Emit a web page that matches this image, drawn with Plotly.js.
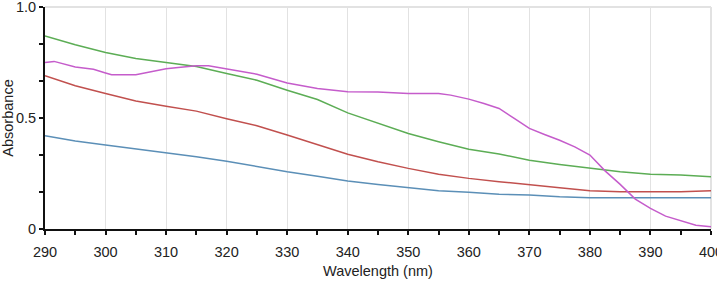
<!DOCTYPE html>
<html>
<head>
<meta charset="utf-8">
<script src="https://cdn.plot.ly/plotly-3.0.1.min.js"></script>
<style>html,body{margin:0;padding:0;background:#fff;}#chart{width:717px;height:282px;}</style>
</head>
<body>
<div id="chart"></div>
<script>
// Wavelengths (nm) shared by the green, red and blue series
const wavelengths = [290,295,300,305,310,315,320,325,330,335,340,345,350,355,360,365,370,375,380,385,390,395,400];
const greenValues = [0.87,0.83,0.795,0.768,0.75,0.732,0.70,0.67,0.625,0.583,0.523,0.478,0.43,0.393,0.359,0.338,0.31,0.291,0.273,0.258,0.247,0.243,0.235];
const redValues   = [0.69,0.645,0.61,0.577,0.553,0.531,0.497,0.465,0.423,0.381,0.337,0.303,0.273,0.247,0.228,0.213,0.198,0.186,0.172,0.168,0.168,0.168,0.172];
const blueValues  = [0.42,0.396,0.378,0.36,0.345,0.325,0.305,0.28,0.258,0.238,0.216,0.201,0.186,0.172,0.165,0.157,0.153,0.145,0.141,0.141,0.141,0.141,0.141];
// Magenta series read at finer wavelength steps
const magentaWavelengths = [290,291.5,295,298,300,301,305,307.5,310,312,315,317,320,322,325,330,335,340,345,350,355,357,360,362.5,365,367.5,370,372.5,375,377.5,380,382.5,385,387.5,390,392.5,395,397.5,400];
const magentaValues = [0.75,0.755,0.73,0.72,0.703,0.695,0.695,0.707,0.722,0.727,0.735,0.735,0.72,0.713,0.697,0.658,0.633,0.618,0.617,0.61,0.61,0.603,0.585,0.565,0.543,0.498,0.453,0.426,0.40,0.37,0.333,0.262,0.201,0.135,0.093,0.058,0.036,0.017,0.01];
// Axis ticks
const xTickVals = [290,300,310,320,330,340,350,360,370,380,390,400];
const xTickText = ['290','300','310','320','330','340','350','360','370','380','390','400'];
const xMinorVals = [295,305,315,325,335,345,355,365,375,385,395];
const yTickVals = [0,0.5,1];
const yTickText = ['0','0.5','1.0'];
const yMinorVals = [1/6,1/3,2/3,5/6];
const yGridVals = [0,1/3,2/3,1];
const yInnerMinor = [1/6,0.5,5/6];

const lineW = 1.5;
const traces = [
  {x: wavelengths, y: blueValues, mode:'lines', line:{color:'#5b8fb7', width:lineW}},
  {x: wavelengths, y: redValues, mode:'lines', line:{color:'#c1504e', width:lineW}},
  {x: wavelengths, y: greenValues, mode:'lines', line:{color:'#5cad55', width:lineW}},
  {x: magentaWavelengths, y: magentaValues, mode:'lines', line:{color:'#c55ccb', width:lineW}}
];

const fam = '"Liberation Sans", Arial, Helvetica, sans-serif';
const tickFont = {family:fam, size:14.5, color:'#222'};
const titleFont = {family:fam, size:14.5, color:'#222'};
const gridCol = '#e2e2e2';
const layout = {
  width:717, height:282,
  margin:{l:45, r:6, t:7, b:53},
  paper_bgcolor:'#fff', plot_bgcolor:'#fff',
  showlegend:false,
  font: tickFont,
  xaxis:{
    range:[290,400], tickmode:'array', tickvals:xTickVals, ticktext:xTickText,
    showgrid:true, gridcolor:gridCol, gridwidth:1,
    showline:true, linecolor:'#111', linewidth:2,
    ticks:'outside', ticklen:4, tickwidth:2, tickcolor:'#111',
    ticklabelstandoff:5, ticklabeloverflow:'allow',
    minor:{tickmode:'array', tickvals:xMinorVals, ticks:'outside', ticklen:4, tickwidth:2, tickcolor:'#111', showgrid:false},
    zeroline:false, tickfont:tickFont,
    title:{text:'Wavelength (nm)', font:titleFont, standoff:6}
  },
  xaxis2:{
    range:[290,400], overlaying:'x', anchor:'y', side:'bottom',
    tickmode:'array', tickvals:xTickVals.concat(xMinorVals),
    ticks:'inside', ticklen:3, tickwidth:2, tickcolor:'#111',
    showticklabels:false, showgrid:false, showline:false, zeroline:false
  },
  yaxis:{
    range:[0,1], tickmode:'array', tickvals:yTickVals, ticktext:yTickText,
    showgrid:false, showline:true, linecolor:'#111', linewidth:2,
    ticks:'outside', ticklen:4, tickwidth:2, tickcolor:'#111',
    ticklabeloverflow:'allow',
    minor:{tickmode:'array', tickvals:yMinorVals, ticks:'outside', ticklen:4, tickwidth:2, tickcolor:'#111', showgrid:false},
    zeroline:false, tickfont:tickFont,
    title:{text:'Absorbance', font:titleFont, standoff:4}
  },
  yaxis2:{
    range:[0,1], overlaying:'y', anchor:'x', side:'left',
    tickmode:'array', tickvals:yGridVals,
    showgrid:true, gridcolor:gridCol, gridwidth:1,
    ticks:'inside', ticklen:3, tickwidth:2, tickcolor:'#111',
    minor:{tickmode:'array', tickvals:yInnerMinor, ticks:'inside', ticklen:3, tickwidth:2, tickcolor:'#111', showgrid:false},
    showticklabels:false, showline:false, zeroline:false
  },
  shapes:[
    {type:'line', xref:'x domain', yref:'y domain', x0:0, x1:1, y0:1, y1:1, line:{color:gridCol, width:2}, layer:'below'},
    {type:'line', xref:'x domain', yref:'y domain', x0:1, x1:1, y0:0, y1:1, line:{color:gridCol, width:2}, layer:'below'}
  ]
};

Plotly.newPlot('chart', traces, layout, {staticPlot:true, displayModeBar:false});
</script>
</body>
</html>
